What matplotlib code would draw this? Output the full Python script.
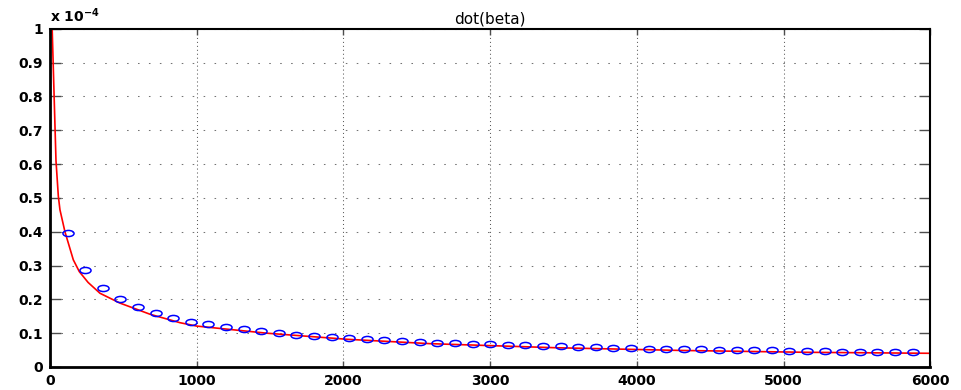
import matplotlib
matplotlib.use('Agg')
import matplotlib.pyplot as plt
from matplotlib.path import Path
from matplotlib.transforms import Affine2D

#### dati (valori in unita' di 1e-4) ####
# punti blu (cerchi)
t_punti = [120, 240, 360, 480, 600, 720, 840, 960, 1080, 1200,
           1320, 1440, 1560, 1680, 1800, 1920, 2040, 2160, 2280, 2400,
           2520, 2640, 2760, 2880, 3000, 3120, 3240, 3360, 3480, 3600,
           3720, 3840, 3960, 4080, 4200, 4320, 4440, 4560, 4680, 4800,
           4920, 5040, 5160, 5280, 5400, 5520, 5640, 5760, 5880]
beta_punti = [0.397, 0.287, 0.233, 0.200, 0.177, 0.159, 0.146, 0.134, 0.126, 0.119,
              0.112, 0.105, 0.101, 0.096, 0.093, 0.089, 0.085, 0.083, 0.079, 0.077,
              0.075, 0.072, 0.071, 0.069, 0.067, 0.066, 0.064, 0.062, 0.061, 0.059,
              0.058, 0.057, 0.056, 0.054, 0.054, 0.053, 0.052, 0.051, 0.050, 0.049,
              0.049, 0.048, 0.047, 0.046, 0.045, 0.044, 0.044, 0.0435, 0.043]

# curva rossa
t_curva = [15, 41, 57, 68, 102, 159, 200, 260, 341, 477, 682, 886, 1000,
           1477, 2023, 2591, 3443, 4295, 5148, 6000]
beta_curva = [1.0, 0.61, 0.505, 0.465, 0.40, 0.317, 0.282, 0.25, 0.218, 0.189,
              0.156, 0.131, 0.121, 0.100, 0.082, 0.069, 0.057, 0.049, 0.0435, 0.0405]

xticks = [0, 1000, 2000, 3000, 4000, 5000, 6000]
yticks = [0, 0.1, 0.2, 0.3, 0.4, 0.5, 0.6, 0.7, 0.8, 0.9, 1]
ylabels = ['0', '0.1', '0.2', '0.3', '0.4', '0.5', '0.6', '0.7', '0.8', '0.9', '1']

plt.rcParams['font.family'] = 'DejaVu Sans'
plt.rcParams['font.size'] = 10
plt.rcParams['mathtext.default'] = 'regular'

f1 = plt.figure(figsize=(9.61, 3.90), dpi=100)
ax1 = f1.add_axes([0.052, 0.059, 0.916, 0.867])

# cerchi schiacciati come nell'originale
ellisse = Path.unit_circle().transformed(Affine2D().scale(1.0, 0.55))

ax1.plot(t_curva, beta_curva, '-', color='#ff0000', linewidth=1.2)
ax1.plot(t_punti, beta_punti, linestyle='none', marker=ellisse, markersize=8,
         markerfacecolor='none', markeredgecolor='#0000ff', markeredgewidth=1.1)

ax1.set_xlim(0, 6000)
ax1.set_ylim(0, 1)
ax1.set_xticks(xticks)
ax1.set_yticks(yticks)
ax1.set_yticklabels(ylabels)

# griglia a puntini stile matlab
ax1.xaxis.grid(True, linestyle=(0, (1, 2.8)), color='0.35', linewidth=0.75)
ax1.yaxis.grid(True, linestyle=(0, (1.5, 9)), color='0.45', linewidth=0.75)

ax1.tick_params(axis='both', direction='in', top=True, right=True,
                color='0.3', width=1, labelsize=10, pad=5)
ax1.tick_params(axis='y', length=8)
ax1.tick_params(axis='x', length=4)
for lab in ax1.get_xticklabels() + ax1.get_yticklabels():
    lab.set_fontweight('bold')

for lato in ['left', 'bottom']:
    ax1.spines[lato].set_linewidth(2)
for lato in ['right', 'top']:
    ax1.spines[lato].set_linewidth(1.5)

ax1.set_title('dot(beta)', fontsize=11, pad=4)
ax1.text(0, 1.012, r'x 10$^{-4}$', transform=ax1.transAxes,
         ha='left', va='bottom', fontsize=10, fontweight='bold')

f1.savefig('out.png', dpi=100)
